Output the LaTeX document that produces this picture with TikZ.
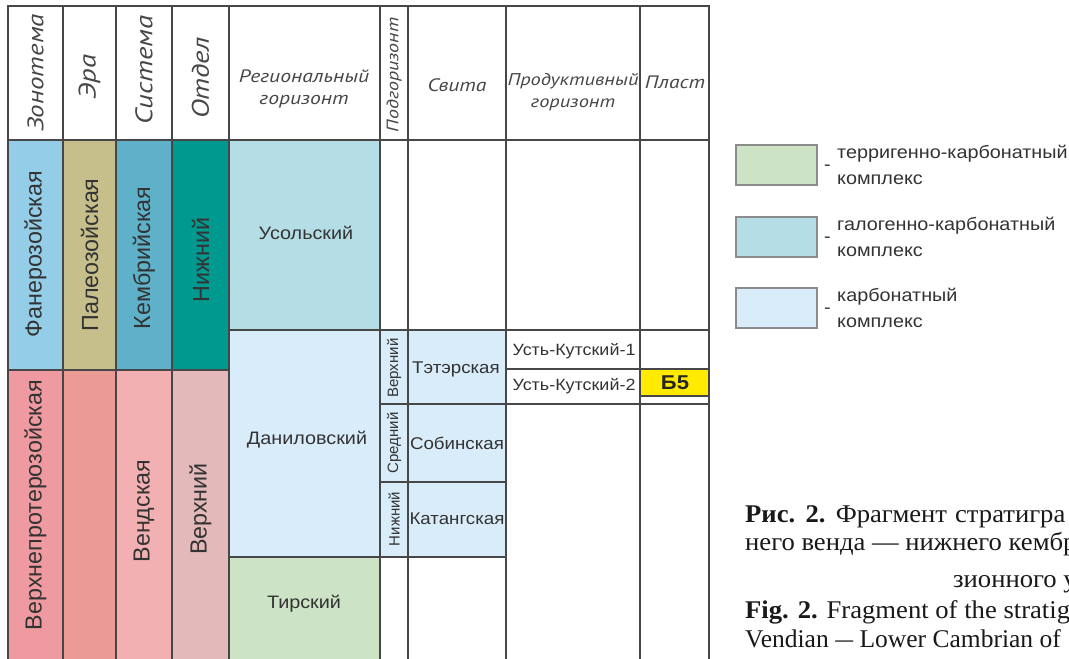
\documentclass[tikz,border=0pt]{standalone}
\usepackage{graphicx}
\usepackage{fontspec}
\setmainfont{Liberation Sans}
\newfontfamily\tabfont[FakeStretch=1.1]{Liberation Sans}
\newfontfamily\vtabfont{Liberation Sans}
\newfontfamily\hdrfont[FakeStretch=1.2]{PT Sans}
\newfontfamily\capfont[FakeStretch=1.045]{Liberation Serif}
\newfontfamily\capfontn{Liberation Serif}
\newcommand{\shortdash}{\scalebox{0.7}[1]{—}}
\definecolor{cPhan}{HTML}{94CDE8}
\definecolor{cPal}{HTML}{C6BF8B}
\definecolor{cCam}{HTML}{5EB1C8}
\definecolor{cLow}{HTML}{00998F}
\definecolor{cUPr}{HTML}{EF9AA0}
\definecolor{cEra}{HTML}{EC9A96}
\definecolor{cVen}{HTML}{F2B0B2}
\definecolor{cUpp}{HTML}{E3B9BA}
\definecolor{cGal}{HTML}{B5DDE6}
\definecolor{cCarb}{HTML}{D9ECF9}
\definecolor{cTer}{HTML}{CDE3C5}
\definecolor{cYel}{HTML}{FFEA00}
\tikzset{
  grid/.style={draw=black!72, line width=1.5pt},
  hdr/.style={inner sep=0pt, text=black!72, align=center, font=\hdrfont\itshape\fontsize{18}{22}\selectfont},
  vhdr/.style={inner sep=0pt, rotate=90, text=black!72, font=\hdrfont\itshape\fontsize{24}{24}\selectfont},
  lbl/.style={inner sep=0pt, text=black!80, font=\tabfont\fontsize{17}{20}\selectfont},
  biglbl/.style={inner sep=0pt, text=black!80, font=\tabfont\fontsize{18}{20}\selectfont},
  smlbl/.style={inner sep=0pt, text=black!80, font=\tabfont\fontsize{16.3}{18}\selectfont},
  vlbl/.style={inner sep=0pt, rotate=90, text=black!80, font=\vtabfont\fontsize{23.3}{23.3}\selectfont},
  vsub/.style={inner sep=0pt, rotate=90, text=black!80, font=\vtabfont\fontsize{15}{15}\selectfont},
  legbox/.style={draw=black!45, line width=1.3pt},
  legtxt/.style={inner sep=0pt, anchor=west, align=left, text=black!80, font=\tabfont\fontsize{18}{26}\selectfont},
  captext/.style={inner sep=0pt, anchor=base west, text=black!90, font=\capfont\fontsize{25.5}{28}\selectfont},
}
\begin{document}
\begin{tikzpicture}[x=1pt, y=-1pt]
\useasboundingbox[fill=white] (0,0) rectangle (1069,659);
% fills
\fill[cPhan] (8,140) rectangle (63,370);
\fill[cPal] (63,140) rectangle (116,370);
\fill[cCam] (116,140) rectangle (172,370);
\fill[cLow] (172,140) rectangle (229,370);
\fill[cUPr] (8,370) rectangle (63,659);
\fill[cEra] (63,370) rectangle (116,659);
\fill[cVen] (116,370) rectangle (172,659);
\fill[cUpp] (172,370) rectangle (229,659);
\fill[cGal] (229,140) rectangle (380,330);
\fill[cCarb] (229,330) rectangle (506,557);
\fill[cTer] (229,557) rectangle (380,659);
\fill[cYel] (640,369) rectangle (709,396);
% grid
\draw[grid] (8,659) -- (8,6) -- (709,6) -- (709,659);
\foreach \xx in {63,116,172,229,380,408,506,640} \draw[grid] (\xx,6) -- (\xx,659);
\draw[grid] (8,140) -- (709,140);
\draw[grid] (8,370) -- (229,370);
\draw[grid] (229,330) -- (709,330);
\draw[grid] (506,369) -- (709,369);
\draw[grid] (640,396) -- (709,396);
\draw[grid] (380,404) -- (709,404);
\draw[grid] (380,482) -- (506,482);
\draw[grid] (229,557) -- (506,557);
% header
\node[vhdr, font=\hdrfont\itshape\fontsize{22.5}{22.5}\selectfont] (hZon) at (35.5,73) {Зонотема};
\node[vhdr] (hEra) at (89.5,77) {Эра};
\node[vhdr] (hSys) at (144,70) {Система};
\node[vhdr] (hOtd) at (200.5,78) {Отдел};
\node[hdr] (hReg) at (304,89) {Региональный\\горизонт};
\node[vhdr, font=\hdrfont\itshape\fontsize{16.6}{16.6}\selectfont] (hPod) at (394,75) {Подгоризонт};
\node[hdr] (hSvi) at (457,85) {Свита};
\node[hdr, font=\hdrfont\itshape\fontsize{17}{22}\selectfont] (hPro) at (573,92) {Продуктивный\\горизонт};
\node[hdr] (hPla) at (675,82) {Пласт};
% left columns
\node[vlbl] (tPhan) at (35.5,254) {Фанерозойская};
\node[vlbl] (tPal) at (89.5,255) {Палеозойская};
\node[vlbl] (tCam) at (144,258) {Кембрийская};
\node[vlbl] (tLow) at (200.5,260) {Нижний};
\node[vlbl] (tUPr) at (35.5,505) {Верхнепротерозойская};
\node[vlbl] (tVen) at (144,511) {Вендская};
\node[vlbl] (tUpp) at (200.5,509) {Верхний};
% regional horizons
\node[biglbl] (rUso) at (306,233) {Усольский};
\node[biglbl] (rDan) at (307,440) {Даниловский};
\node[biglbl] (rTir) at (304,604) {Тирский};
% subhorizons
\node[vsub] (sUp) at (394,368) {Верхний};
\node[vsub] (sMid) at (394,443) {Средний};
\node[vsub] (sLow) at (394,519) {Нижний};
% svita
\node[lbl] (vTet) at (456,369) {Тэтэрская};
\node[lbl] (vSob) at (457,443) {Собинская};
\node[lbl] (vKat) at (457,519) {Катангская};
% productive
\node[smlbl] (pUK1) at (574,351) {Усть-Кутский-1};
\node[smlbl] (pUK2) at (574,386) {Усть-Кутский-2};
\node[inner sep=0pt, text=black!85, font=\tabfont\bfseries\fontsize{20}{20}\selectfont] (pB5) at (675,383) {Б5};
% legend
\draw[legbox, fill=cTer] (736,145) rectangle (817,185);
\draw[legbox, fill=cGal] (736,217) rectangle (817,257);
\draw[legbox, fill=cCarb] (736,288) rectangle (817,328);
\node[legtxt] (lD1) at (824,168) {-};
\node[legtxt] (lT1) at (837,165) {терригенно-карбонатный\\комплекс};
\node[legtxt] (lD2) at (824,240) {-};
\node[legtxt] (lT2) at (837,237) {галогенно-карбонатный\\комплекс};
\node[legtxt] (lD3) at (824,311) {-};
\node[legtxt] (lT3) at (837,308) {карбонатный\\комплекс};
% caption
\node[captext] (c1) at (745,522) {\spaceskip=8pt\textbf{Рис. 2.} Фрагмент стратигра};
\node[captext] (c2) at (745,550) {него венда — нижнего кембр};
\node[captext] (c3) at (953,587) {зионного у};
\node[captext] (c4) at (745,618) {\textbf{Fig. 2.} Fragment of the stratig};
\node[captext, font=\capfontn\fontsize{25.5}{28}\selectfont] (c5) at (745,647) {\spaceskip=6.5pt Vendian \shortdash{} Lower Cambrian of};
\end{tikzpicture}
\end{document}
